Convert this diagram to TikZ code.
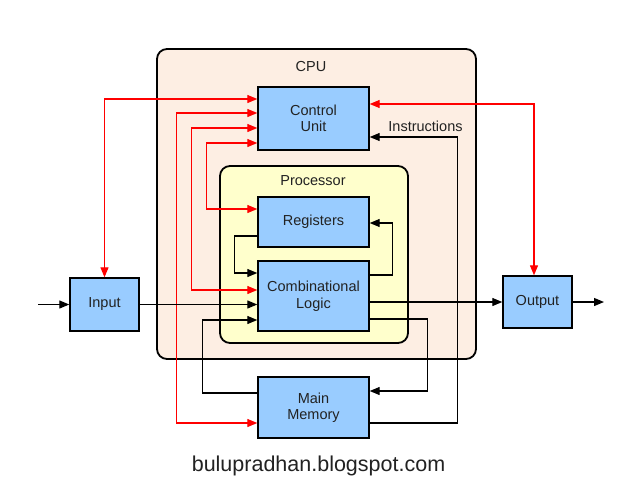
\documentclass[tikz,border=0pt]{standalone}
\usepackage{fontspec}
\setmainfont{Liberation Sans}
\usetikzlibrary{arrows.meta}
\definecolor{cpufill}{HTML}{FDEEE3}
\definecolor{procfill}{HTML}{FFFFCC}
\definecolor{boxfill}{HTML}{99CCFF}
\definecolor{wirered}{HTML}{FF0000}
\definecolor{txt}{HTML}{222222}
\tikzset{
  container/.style={draw=black, line width=1.8pt, rounded corners=10pt, inner sep=0pt},
  unitbox/.style={draw=black, line width=1.4pt, fill=boxfill, align=center, inner sep=0pt,
    font=\fontsize{14.5}{16.5}\selectfont, text=txt},
  lbl/.style={font=\fontsize{14.5}{16.5}\selectfont, text=txt, inner sep=0pt},
  wire/.style={line width=1.2pt, draw=black, -{Triangle[length=10pt,width=8pt]}},
  redwire/.style={line width=1.2pt, draw=wirered, {Triangle[length=10pt,width=8pt]}-{Triangle[length=10pt,width=8pt]}},
}
\begin{document}
\begin{tikzpicture}[x=1pt,y=-1pt]
\useasboundingbox (0,0) rectangle (639,493);
\fill[white] (0,0) rectangle (639,493);
% containers
\node[container, fill=cpufill, minimum width=319pt, minimum height=310pt] (cpu) at (316.5,204) {};
\node[lbl] (cpulbl) at (311,67) {CPU};
\node[container, fill=procfill, minimum width=188pt, minimum height=177pt] (proc) at (314,254.5) {};
\node[lbl] (proclbl) at (313,181) {Processor};
% units
\node[unitbox, minimum width=111pt, minimum height=63pt] (cu) at (313.5,118.5) {Control\\Unit};
\node[unitbox, minimum width=111pt, minimum height=50pt] (reg) at (313.5,222) {Registers};
\node[unitbox, minimum width=111pt, minimum height=70pt] (cl) at (313.5,296) {Combinational\\Logic};
\node[unitbox, minimum width=111pt, minimum height=61pt] (mm) at (313.5,407.5) {Main\\Memory};
\node[unitbox, minimum width=69pt, minimum height=53pt] (in) at (104.5,304.5) {Input};
\node[unitbox, minimum width=69pt, minimum height=52pt] (out) at (537.5,302) {Output};
\coordinate (inbeg) at (38,304.5);
\coordinate (outend) at (604,302);
\node[lbl] (instr) at (425.5,126.5) {Instructions};
% red control wires
\draw[redwire] (in.north) |- ([yshift=19.5pt]cu.west);
\draw[redwire] ([yshift=5.5pt]cu.west) -- ++(-81,0) |- ([yshift=-15.5pt]mm.west);
\draw[redwire] ([yshift=-9.5pt]cu.west) -- ++(-66,0) |- ([yshift=6pt]cl.west);
\draw[redwire] ([yshift=-24.5pt]cu.west) -- ++(-51,0) |- ([yshift=13pt]reg.west);
\draw[redwire] ([yshift=14.5pt]cu.east) -| ([xshift=-3.5pt]out.north);
% black data wires
\draw[wire] ([yshift=-15.5pt]mm.east) -- ++(88,0) |- ([yshift=-18.5pt]cu.east);
\draw[wire] ([yshift=-14pt]reg.west) -- ++(-23,0) |- ([yshift=23pt]cl.west);
\draw[wire] ([yshift=21pt]cl.east) -- ++(23,0) |- ([yshift=-1pt]reg.east);
\draw[wire] (in.east) -- (in.east -| cl.west);
\draw[wire] ([yshift=14.5pt]mm.west) -- ++(-55,0) |- ([yshift=-24pt]cl.west);
\draw[wire] ([yshift=-23pt]cl.east) -- ++(58,0) |- ([yshift=16.5pt]mm.east);
\draw[wire] ([yshift=-6pt]cl.east) -- (out.west);
\draw[wire] (out.east) -- (outend);
\draw[wire] (inbeg) -- (in.west);
% watermark
\node[font=\fontsize{21.5}{25}\selectfont, text=txt, inner sep=0pt] (wm) at (318.5,466) {bulupradhan.blogspot.com};
\end{tikzpicture}
\end{document}
